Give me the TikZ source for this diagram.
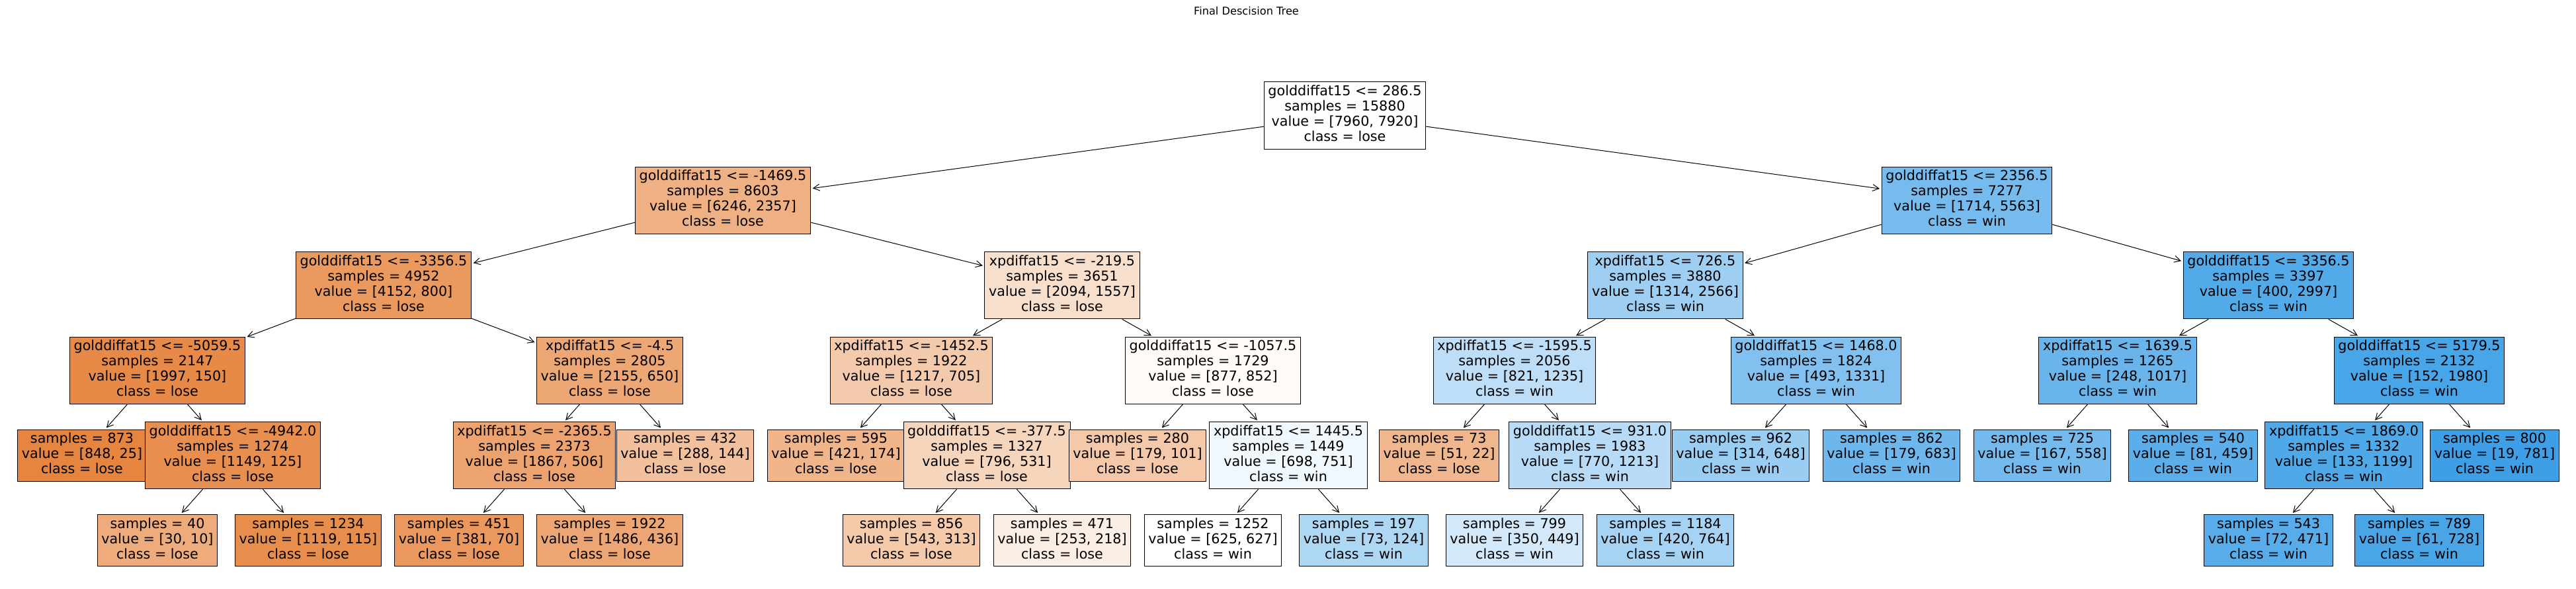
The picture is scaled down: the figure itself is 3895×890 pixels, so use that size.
\documentclass[tikz,border=0pt]{standalone}
\usepackage{fontspec}
\setmainfont{DejaVu Sans}
\usetikzlibrary{arrows.meta}
\definecolor{lose}{RGB}{229,129,57}
\definecolor{win}{RGB}{57,157,229}
\newcommand\fourl[4]{\strut#1\\#2\\#3\\#4\strut}
\newcommand\threel[3]{\strut#1\\#2\\#3\strut}
\tikzset{
  tbox/.style={draw=black, line width=1pt, align=center, inner xsep=6.2pt, inner ysep=4.6pt,
    font=\fontsize{20.7}{23}\selectfont},
  L/.style={tbox, fill=lose!#1!white},
  W/.style={tbox, fill=win!#1!white},
  edge/.style={line width=1pt, -{Straight Barb[length=9.5pt,width=10pt,line width=1pt]}, shorten >=2.7pt}
}
\begin{document}
\begin{tikzpicture}[x=1pt,y=-1pt]
\useasboundingbox (0,0) rectangle (3895,890);
\node[font=\fontsize{16.2}{19}\selectfont, anchor=base, inner sep=0pt] (title) at (1884.5,23) {Final Descision Tree};
% depth 0
\node[L=0.5] (r) at ({10+57*35.5},174.5) {\fourl{golddiffat15 <= 286.5}{samples = 15880}{value = [7960, 7920]}{class = lose}};
% depth 1
\node[L=62.3] (a) at ({10+57*19},302.9) {\fourl{golddiffat15 <= -1469.5}{samples = 8603}{value = [6246, 2357]}{class = lose}};
\node[W=69.2] (b) at ({10+57*52},302.9) {\fourl{golddiffat15 <= 2356.5}{samples = 7277}{value = [1714, 5563]}{class = win}};
% depth 2
\node[L=80.7] (aa) at ({10+57*10},431.3) {\fourl{golddiffat15 <= -3356.5}{samples = 4952}{value = [4152, 800]}{class = lose}};
\node[L=25.6] (ab) at ({10+57*28},431.3) {\fourl{xpdiffat15 <= -219.5}{samples = 3651}{value = [2094, 1557]}{class = lose}};
\node[W=48.8] (ba) at ({10+57*44},431.3) {\fourl{xpdiffat15 <= 726.5}{samples = 3880}{value = [1314, 2566]}{class = win}};
\node[W=86.7] (bb) at ({10+57*60},431.3) {\fourl{golddiffat15 <= 3356.5}{samples = 3397}{value = [400, 2997]}{class = win}};
% depth 3
\node[L=92.5] (aaa) at ({10+57*4},559.7) {\fourl{golddiffat15 <= -5059.5}{samples = 2147}{value = [1997, 150]}{class = lose}};
\node[L=69.8] (aab) at ({10+57*16},559.7) {\fourl{xpdiffat15 <= -4.5}{samples = 2805}{value = [2155, 650]}{class = lose}};
\node[L=42.1] (aba) at ({10+57*24},559.7) {\fourl{xpdiffat15 <= -1452.5}{samples = 1922}{value = [1217, 705]}{class = lose}};
\node[L=2.9] (abb) at ({10+57*32},559.7) {\fourl{golddiffat15 <= -1057.5}{samples = 1729}{value = [877, 852]}{class = lose}};
\node[W=33.5] (baa) at ({10+57*40},559.7) {\fourl{xpdiffat15 <= -1595.5}{samples = 2056}{value = [821, 1235]}{class = win}};
\node[W=63.0] (bab) at ({10+57*48},559.7) {\fourl{golddiffat15 <= 1468.0}{samples = 1824}{value = [493, 1331]}{class = win}};
\node[W=75.6] (bba) at ({10+57*56},559.7) {\fourl{xpdiffat15 <= 1639.5}{samples = 1265}{value = [248, 1017]}{class = win}};
\node[W=92.3] (bbb) at ({10+57*64},559.7) {\fourl{golddiffat15 <= 5179.5}{samples = 2132}{value = [152, 1980]}{class = win}};
% depth 4
\node[L=97.1] (aaaa) at ({10+57*2},688.1) {\threel{samples = 873}{value = [848, 25]}{class = lose}};
\node[L=89.1] (aaab) at ({10+57*6},688.1) {\fourl{golddiffat15 <= -4942.0}{samples = 1274}{value = [1149, 125]}{class = lose}};
\node[L=72.9] (aaba) at ({10+57*14},688.1) {\fourl{xpdiffat15 <= -2365.5}{samples = 2373}{value = [1867, 506]}{class = lose}};
\node[L=50.0] (aabb) at ({10+57*18},688.1) {\threel{samples = 432}{value = [288, 144]}{class = lose}};
\node[L=58.7] (abaa) at ({10+57*22},688.1) {\threel{samples = 595}{value = [421, 174]}{class = lose}};
\node[L=33.3] (abab) at ({10+57*26},688.1) {\fourl{golddiffat15 <= -377.5}{samples = 1327}{value = [796, 531]}{class = lose}};
\node[L=43.6] (abba) at ({10+57*30},688.1) {\threel{samples = 280}{value = [179, 101]}{class = lose}};
\node[W=7.1] (abbb) at ({10+57*34},688.1) {\fourl{xpdiffat15 <= 1445.5}{samples = 1449}{value = [698, 751]}{class = win}};
\node[L=56.9] (baaa) at ({10+57*38},688.1) {\threel{samples = 73}{value = [51, 22]}{class = lose}};
\node[W=36.5] (baab) at ({10+57*42},688.1) {\fourl{golddiffat15 <= 931.0}{samples = 1983}{value = [770, 1213]}{class = win}};
\node[W=51.5] (baba) at ({10+57*46},688.1) {\threel{samples = 962}{value = [314, 648]}{class = win}};
\node[W=73.8] (babb) at ({10+57*50},688.1) {\threel{samples = 862}{value = [179, 683]}{class = win}};
\node[W=70.1] (bbaa) at ({10+57*54},688.1) {\threel{samples = 725}{value = [167, 558]}{class = win}};
\node[W=82.4] (bbab) at ({10+57*58},688.1) {\threel{samples = 540}{value = [81, 459]}{class = win}};
\node[W=88.9] (bbba) at ({10+57*62},688.1) {\fourl{xpdiffat15 <= 1869.0}{samples = 1332}{value = [133, 1199]}{class = win}};
\node[W=97.6] (bbbb) at ({10+57*66},688.1) {\threel{samples = 800}{value = [19, 781]}{class = win}};
% depth 5
\node[L=66.7] (aaaba) at ({10+57*4},816.5) {\threel{samples = 40}{value = [30, 10]}{class = lose}};
\node[L=89.7] (aaabb) at ({10+57*8},816.5) {\threel{samples = 1234}{value = [1119, 115]}{class = lose}};
\node[L=81.6] (aabaa) at ({10+57*12},816.5) {\threel{samples = 451}{value = [381, 70]}{class = lose}};
\node[L=70.7] (aabab) at ({10+57*16},816.5) {\threel{samples = 1922}{value = [1486, 436]}{class = lose}};
\node[L=42.4] (ababa) at ({10+57*24},816.5) {\threel{samples = 856}{value = [543, 313]}{class = lose}};
\node[L=13.8] (ababb) at ({10+57*28},816.5) {\threel{samples = 471}{value = [253, 218]}{class = lose}};
\node[W=0.3] (abbba) at ({10+57*32},816.5) {\threel{samples = 1252}{value = [625, 627]}{class = win}};
\node[W=41.1] (abbbb) at ({10+57*36},816.5) {\threel{samples = 197}{value = [73, 124]}{class = win}};
\node[W=22.0] (baaba) at ({10+57*40},816.5) {\threel{samples = 799}{value = [350, 449]}{class = win}};
\node[W=45.0] (baabb) at ({10+57*44},816.5) {\threel{samples = 1184}{value = [420, 764]}{class = win}};
\node[W=84.7] (bbbaa) at ({10+57*60},816.5) {\threel{samples = 543}{value = [72, 471]}{class = win}};
\node[W=91.6] (bbbab) at ({10+57*64},816.5) {\threel{samples = 789}{value = [61, 728]}{class = win}};
% edges
\foreach \p/\c in {r/a, r/b, a/aa, a/ab, b/ba, b/bb,
  aa/aaa, aa/aab, ab/aba, ab/abb, ba/baa, ba/bab, bb/bba, bb/bbb,
  aaa/aaaa, aaa/aaab, aab/aaba, aab/aabb, aba/abaa, aba/abab, abb/abba, abb/abbb,
  baa/baaa, baa/baab, bab/baba, bab/babb, bba/bbaa, bba/bbab, bbb/bbba, bbb/bbbb,
  aaab/aaaba, aaab/aaabb, aaba/aabaa, aaba/aabab, abab/ababa, abab/ababb,
  abbb/abbba, abbb/abbbb, baab/baaba, baab/baabb, bbba/bbbaa, bbba/bbbab}
  \draw[edge] (\p) -- (\c);
\end{tikzpicture}
\end{document}
